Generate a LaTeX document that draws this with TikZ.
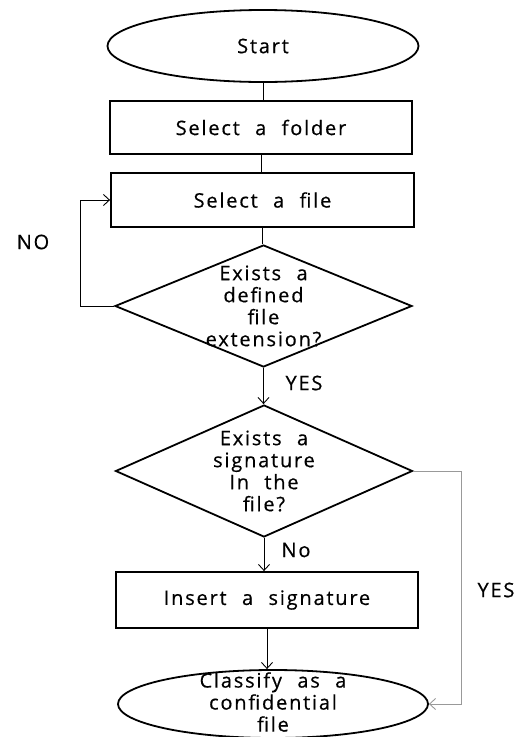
\documentclass[tikz,border=0pt]{standalone}
\usepackage{fontspec}
\setmainfont[LetterSpace=9,WordSpace=2.2,FakeBold=0.5]{Open Sans}
\usetikzlibrary{shapes.geometric,arrows.meta}
\begin{document}
\begin{tikzpicture}[x=1pt,y=-1pt,
  every node/.style={font=\fontsize{20}{22}\selectfont},
  term/.style={draw,ellipse,line width=1.8pt,inner sep=0pt},
  procbox/.style={draw,rectangle,line width=1.8pt,inner sep=0pt},
  decide/.style={draw,diamond,line width=1.8pt,inner sep=0pt},
  txt/.style={align=center,inner sep=0pt},
  conn/.style={line width=0.9pt},
  arr/.style={conn,-{Straight Barb[length=6pt,width=11pt,line width=0.9pt]}},
  grayarr/.style={arr,draw=gray!80}]
\useasboundingbox (0,0) rectangle (523,737);
\node[term,minimum width=311pt,minimum height=72pt] (start) at (263,46) {Start};
\node[procbox,minimum width=302pt,minimum height=53pt] (folder) at (261,127.5) {Select a folder};
\node[procbox,minimum width=303pt,minimum height=54pt] (file) at (262.5,200) {Select a file};
\node[decide,minimum width=297pt,minimum height=122pt] (d1) at (263.5,306) {};
\node[txt] (d1t) at (d1) {Exists a\\defined\\file\\extension?};
\node[decide,minimum width=297pt,minimum height=132pt] (d2) at (264,471) {};
\node[txt] (d2t) at (d2) {Exists a\\signature\\In the\\file?};
\node[procbox,minimum width=302pt,minimum height=56pt] (insert) at (267,600) {Insert a signature};
\node[term,minimum width=310pt,minimum height=68pt] (final) at (273,704) {};
\node[txt] (finalt) at (273,702) {Classify as a\\confidential\\file};
\coordinate (nox) at (80,0);
\coordinate (yesx) at (461,0);
\draw[conn] (start.south) -- (start.south |- folder.north);
\draw[conn] (folder.south) -- (folder.south |- file.north);
\draw[conn] (file.south) -- (file.south |- d1.north);
\draw[arr] (d1.south) -- (d1.south |- d2.north);
\draw[arr] (d2.south) -- (d2.south |- insert.north);
\draw[arr] (insert.south) -- (insert.south |- final.north);
\draw[arr] (d1.west) -- (d1.west -| nox) |- (file.west);
\draw[grayarr] (d2.east) -- (d2.east -| yesx) |- (final.east);
\node (lno) at (33,242) {NO};
\node (lyes1) at (304,383) {YES};
\node (lno2) at (296,550) {No};
\node (lyes2) at (496,590) {YES};
\end{tikzpicture}
\end{document}
